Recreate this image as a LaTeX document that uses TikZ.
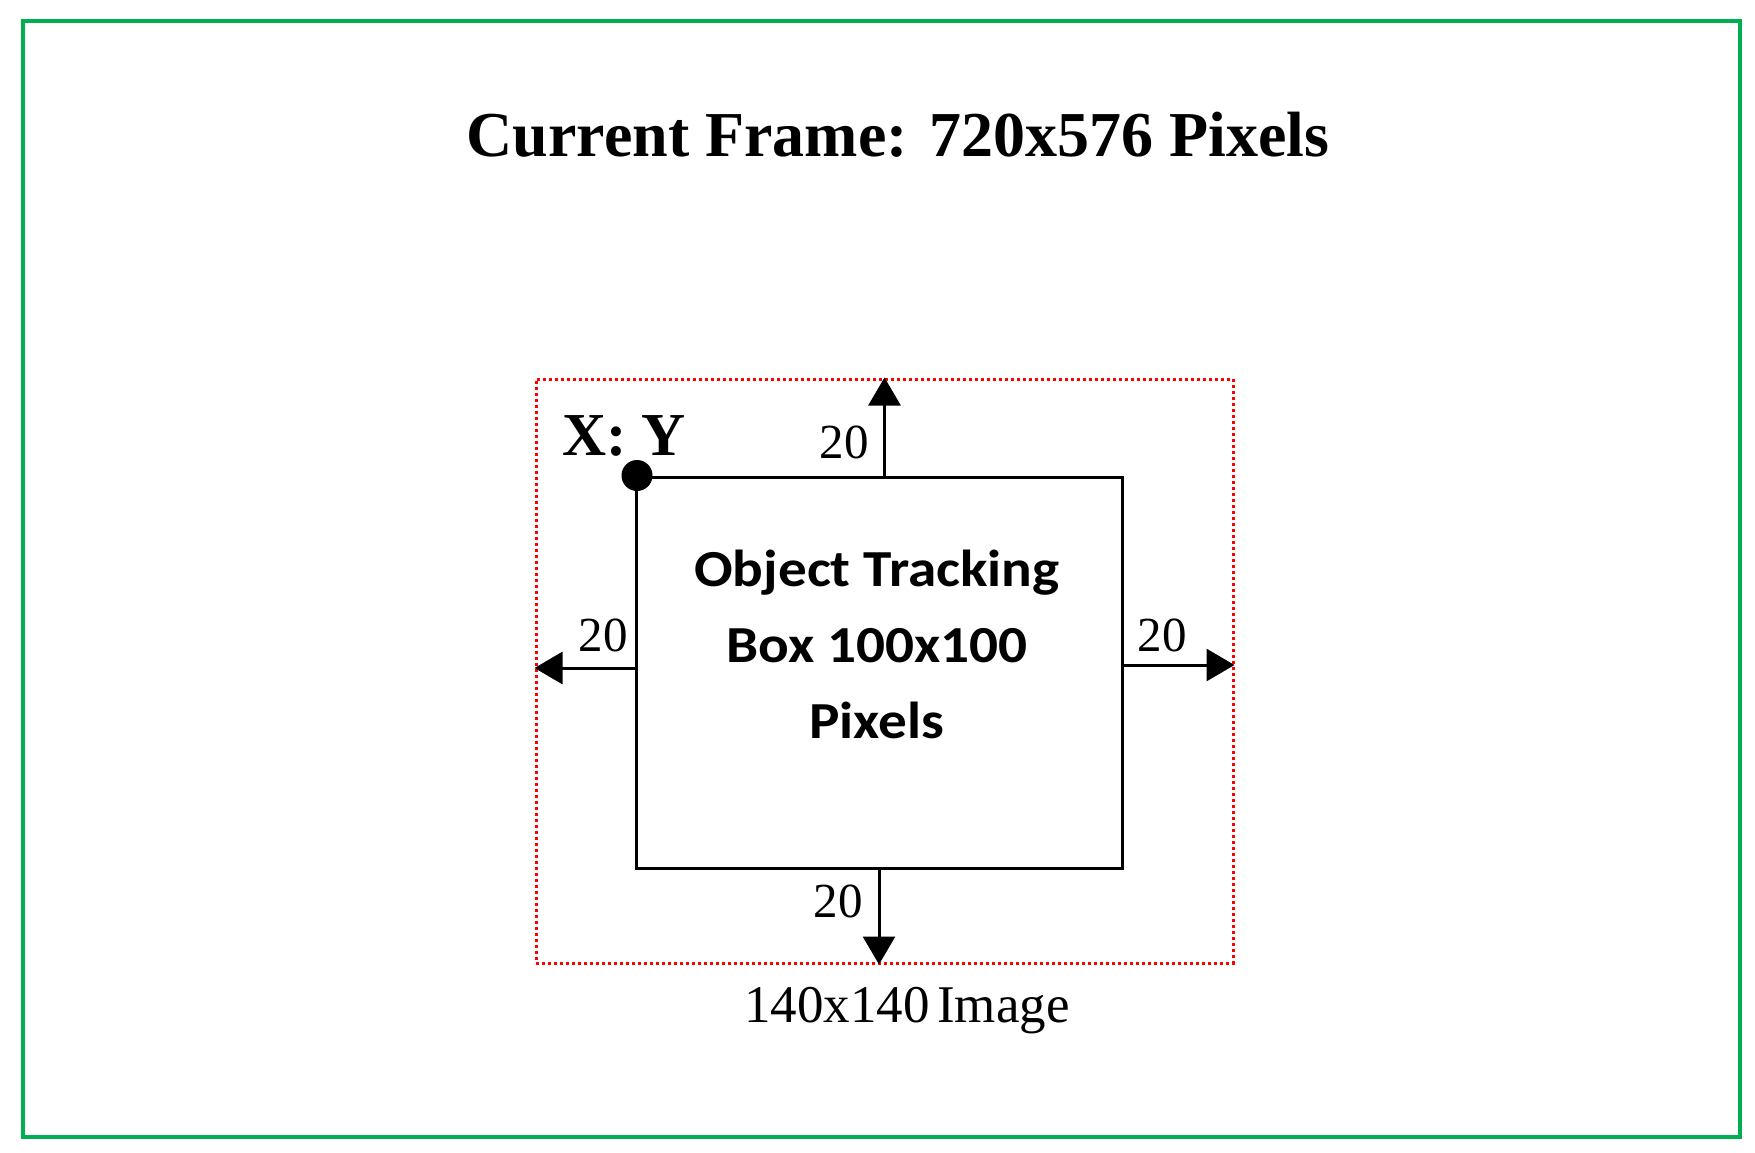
\documentclass[tikz,border=0pt]{standalone}
\usepackage{fontspec}
\setmainfont{Liberation Serif}
\newfontfamily\boxfont[FakeStretch=1.1]{Carlito}
\usetikzlibrary{arrows.meta}
\definecolor{framegreen}{RGB}{0,176,80}
\definecolor{dotred}{RGB}{255,0,0}
\begin{document}
\begin{tikzpicture}[x=1pt,y=-1pt,
  arr/.style={line width=3pt,-{Triangle[length=28pt,width=32pt]}},
  numlbl/.style={anchor=base,inner sep=0,font=\fontsize{49}{49}\selectfont}]
\useasboundingbox (0,0) rectangle (1755,1153);
\draw[framegreen,line width=3.5pt] (23,21) rectangle (1740,1137);
\node[anchor=base,inner sep=0,font=\bfseries\fontsize{64}{64}\selectfont] (title) at (898,157) {Current Frame: 720x576 Pixels};
\node[draw=dotred,line width=3pt,dash pattern=on 3pt off 3pt,minimum width=697pt,minimum height=584pt,inner sep=0] (img) at (884.5,671) {};
\node[draw,line width=3pt,minimum width=486pt,minimum height=391pt,inner sep=0] (box) at (879,672.5) {};
\node[anchor=base,inner sep=0,align=center,font=\boxfont\bfseries\fontsize{52}{76}\selectfont] (boxtext) at (877,738) {Object Tracking\\Box 100x100\\Pixels};
\node[circle,fill,minimum size=31pt,inner sep=0] (dot) at ([xshift=2.5pt]box.north west) {};
\node[anchor=base west,inner sep=0,font=\bfseries\fontsize{61}{61}\selectfont] (xy) at (562,455) {X: Y};
\draw[arr] (box.north -| img.north) -- (img.north);
\draw[arr] (box.south) -- (box.south |- img.south);
\draw[arr] ([yshift=4.5pt]box.west) -- ([yshift=4.5pt]box.west -| img.west);
\draw[arr] ([yshift=7.5pt]box.east) -- ([yshift=7.5pt]box.east -| img.east);
\node[numlbl] (ntop) at (844,458) {20};
\node[numlbl] (nleft) at (603,651) {20};
\node[numlbl] (nright) at (1162,651) {20};
\node[numlbl] (nbottom) at (838,917) {20};
\node[anchor=base,inner sep=0,font=\fontsize{53}{53}\selectfont] (caption) at (907,1022) {140x140\hspace{-6pt} Image};
\end{tikzpicture}
\end{document}
